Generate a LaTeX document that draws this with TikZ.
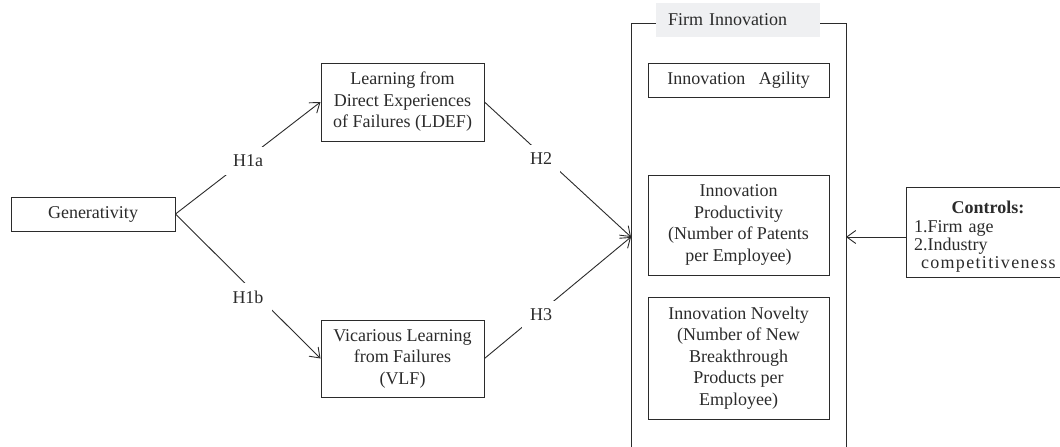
\documentclass[tikz,border=0pt]{standalone}
\usepackage{fontspec}
\setmainfont{Liberation Serif}
\usetikzlibrary{arrows.meta}
\definecolor{ink}{HTML}{2B2B2B}
\definecolor{titlegray}{HTML}{EFF0F2}
\begin{document}
\begin{tikzpicture}[x=1pt,y=-1pt,
  every node/.style={font=\fontsize{18}{21.5}\selectfont, text=ink},
  box/.style={draw=ink, line width=1pt, align=center, inner sep=0pt},
  link/.style={draw=ink, line width=0.9pt},
  arr/.style={link, -{Straight Barb[length=9pt,width=13pt,line width=0.9pt]}},
  hyp/.style={fill=white, inner sep=8pt}]
\useasboundingbox (0,0) rectangle (1060,447);
\clip (0,0) rectangle (1060,447);
\fill[white] (0,0) rectangle (1060,447);

% constructs
\node[box, minimum width=164pt, minimum height=34pt] (gen) at (93,214) {Generativity};
\node[box, minimum width=163pt, minimum height=78pt] (ldef) at (402.5,102)
  {Learning from\\Direct Experiences\\of Failures (LDEF)};
\node[box, minimum width=163pt, minimum height=77pt] (vlf) at (402.5,358.5)
  {Vicarious Learning\\from Failures\\(VLF)};

% firm innovation frame with its title
\node[box, minimum width=215pt, minimum height=460pt, anchor=north west] (firm) at (631,23) {};
\node[fill=titlegray, minimum width=164pt, minimum height=34pt, text width=140pt,
      inner xsep=12pt, inner ysep=0pt, align=left] (ftitle) at (738,20) {Firm Innovation};
\node[box, minimum width=181pt, minimum height=34pt] (agil) at (738.5,80)
  {Innovation\ \ \ Agility};
\node[box, minimum width=181pt, minimum height=100pt] (prod) at (738.5,225)
  {Innovation\\Productivity\\(Number of Patents\\per Employee)};
\node[box, minimum width=181pt, minimum height=122pt] (nov) at (738.5,358)
  {Innovation Novelty\\(Number of New\\Breakthrough\\Products per\\Employee)};

% controls (box runs past the right edge)
\node[box, minimum width=190pt, minimum height=90pt, anchor=north west] (ctrl) at (906,187) {};
\node[text width=148pt, align=left, inner sep=0pt, font=\fontsize{18}{18.4}\selectfont]
  (ctrltext) at (988,237)
  {\makebox[148pt]{\textbf{Controls:}}\\1.Firm age\\2.Industry\\\hspace*{7pt}{\addfontfeatures{LetterSpace=7.4}competitiveness}};

\coordinate (fin) at (631,237);
\coordinate (fout) at (846,237);

% paths
\draw[arr] (gen.east) -- (ldef.west);
\draw[arr] (gen.east) -- (vlf.west);
\draw[arr] (ldef.east) -- (fin);
\draw[arr] (vlf.east) -- (fin);
\draw[arr] (ctrl.west |- fout) -- (fout);

% hypothesis labels
\node[hyp] (h1a) at (248,161) {H1a};
\node[hyp] (h1b) at (248,297) {H1b};
\node[hyp] (h2) at (541,159) {H2};
\node[hyp] (h3) at (541,315) {H3};
\end{tikzpicture}
\end{document}
